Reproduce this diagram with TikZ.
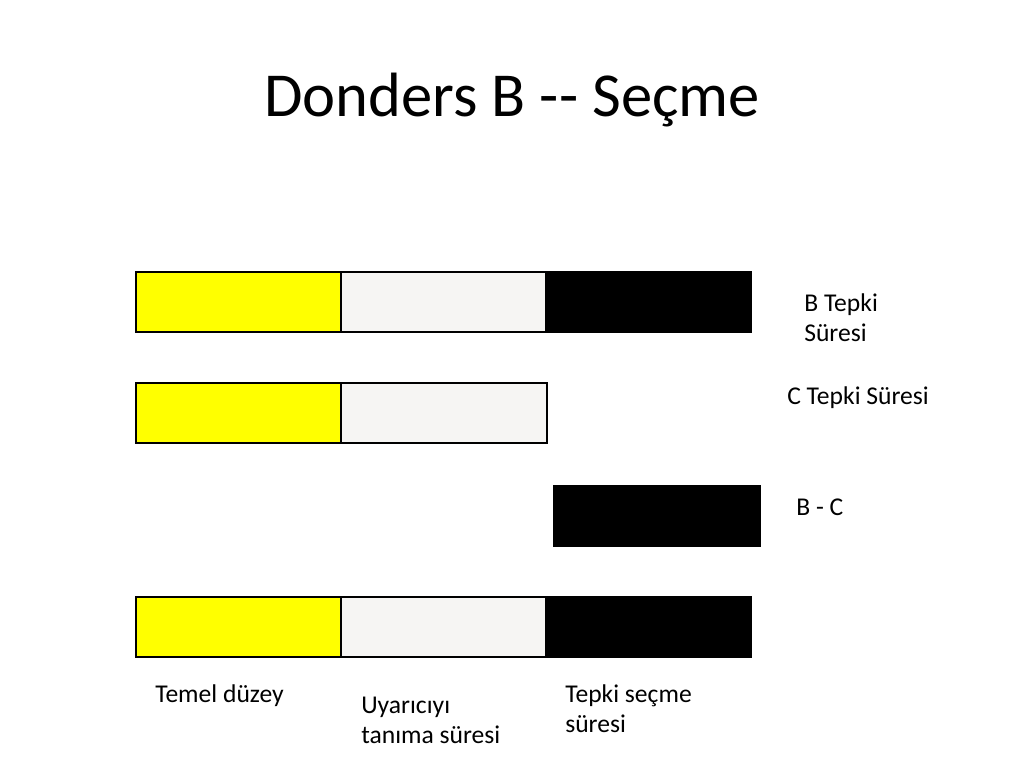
\documentclass[tikz,border=0pt]{standalone}
\usepackage{fontspec}
\setmainfont{Carlito}
\begin{document}
\begin{tikzpicture}[x=0.703125pt,y=-0.703125pt,
  seg/.style={draw=black,line width=1.6pt},
  yel/.style={seg,fill={rgb,255:red,255;green,255;blue,0}},
  gry/.style={seg,fill={rgb,255:red,246;green,245;blue,243}},
  blk/.style={seg,fill=black},
  lbl/.style={anchor=base west,inner sep=0pt,font=\fontsize{18}{21.1}\selectfont}]
\useasboundingbox[fill=white] (0,0) rectangle (1024,768);
\node[anchor=base,inner sep=0pt,font=\fontsize{44}{50}\selectfont] (title) at (512,117) {Donders B -{}- Seçme};
% row 1
\draw[yel] (136,272) rectangle (341,332);
\draw[gry] (341,272) rectangle (546,332);
\draw[blk] (546,272) rectangle (751,332);
% row 2
\draw[yel] (136,383) rectangle (341,443);
\draw[gry] (341,383) rectangle (547,443);
% row 3
\draw[blk] (554,486) rectangle (760,546);
% row 4
\draw[yel] (136,597) rectangle (341,657);
\draw[gry] (341,597) rectangle (546,657);
\draw[blk] (546,597) rectangle (751,657);
% labels
\node[lbl] (bt1) at (804,311) {B Tepki};
\node[lbl] (bt2) at (804,341) {Süresi};
\node[lbl] (ct) at (787,404) {C Tepki Süresi};
\node[lbl] (bc) at (796,515) {B - C};
\node[lbl] (td) at (155,702) {Temel düzey};
\node[lbl] (ut1) at (361,713) {Uyarıcıyı};
\node[lbl] (ut2) at (361,743) {tanıma süresi};
\node[lbl] (ts1) at (565,702) {Tepki seçme};
\node[lbl] (ts2) at (565,732) {süresi};
\end{tikzpicture}
\end{document}
